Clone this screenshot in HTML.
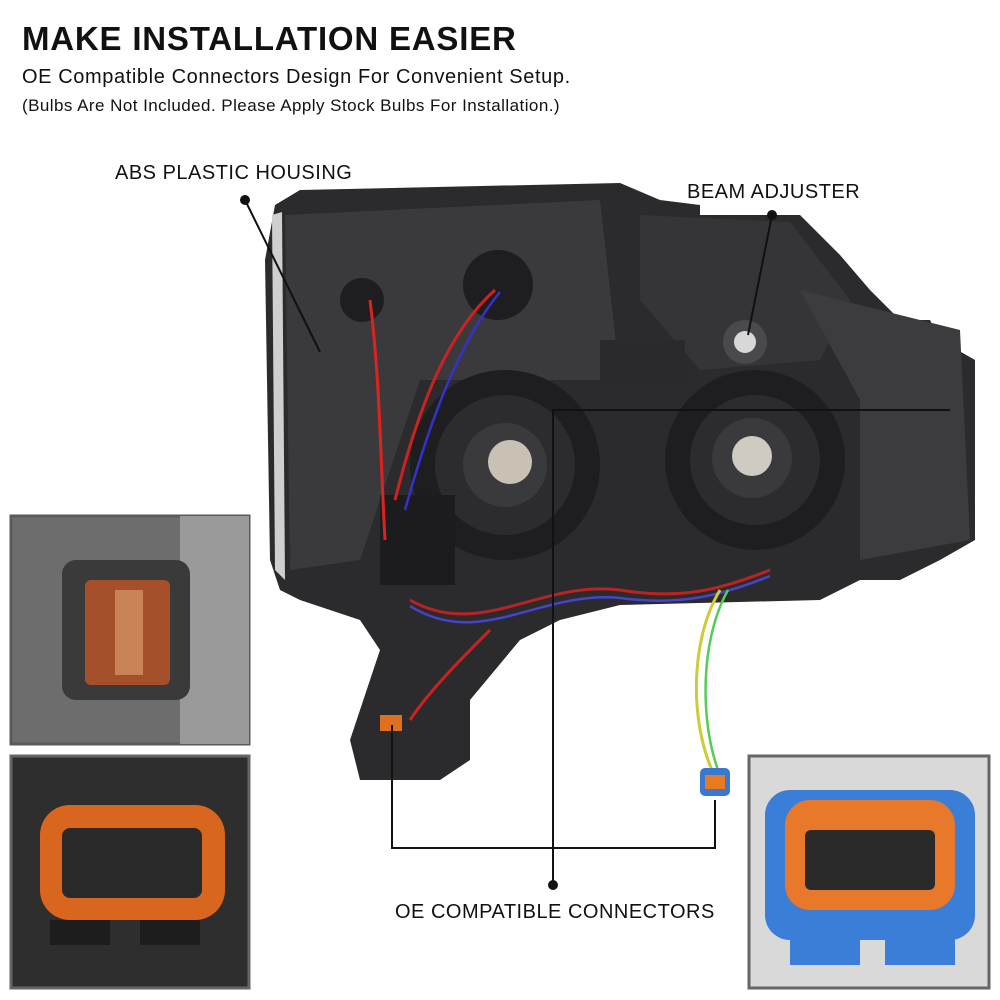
<!DOCTYPE html>
<html><head><meta charset="utf-8"><style>
html,body{margin:0;padding:0;background:#fff;}
body{width:1000px;height:1000px;position:relative;overflow:hidden;font-family:"Liberation Sans",sans-serif;}
.t{position:absolute;color:#111;white-space:nowrap;}
</style></head><body>
<svg width="1000" height="1000" style="position:absolute;left:0;top:0">
<!-- housing -->
<path d="M275,205 L300,190 L620,183 L660,200 L700,205 L700,215 L800,215 L840,255 L870,290 L900,320 L930,320 L940,340 L975,360 L975,540 L940,560 L900,580 L860,580 L820,600 L620,605 L560,620 L520,640 L470,700 L470,760 L440,780 L360,780 L350,740 L380,650 L360,620 L300,600 L280,590 L270,560 L265,260 Z" fill="#2b2b2d"/>
<path d="M272,215 L282,212 L285,580 L275,570 Z" fill="#cfcfcf"/>
<path d="M285,215 L600,200 L620,380 L420,380 L360,560 L290,570 Z" fill="#3a3a3c"/>
<path d="M640,215 L790,222 L850,300 L820,360 L700,370 L640,300 Z" fill="#353537"/>
<path d="M800,290 L960,330 L970,540 L860,560 L860,400 Z" fill="#3c3c3e"/>
<circle cx="505" cy="465" r="95" fill="#1e1e20"/><circle cx="505" cy="465" r="70" fill="#2c2c2e"/><circle cx="505" cy="465" r="42" fill="#3a3a3c"/><circle cx="510" cy="462" r="22" fill="#c9c2b4"/>
<circle cx="755" cy="460" r="90" fill="#1e1e20"/><circle cx="755" cy="460" r="65" fill="#2c2c2e"/><circle cx="752" cy="458" r="40" fill="#3a3a3c"/><circle cx="752" cy="456" r="20" fill="#cfcac2"/>
<circle cx="745" cy="342" r="22" fill="#4a4a4c"/><circle cx="745" cy="342" r="11" fill="#d8d8d8"/>
<circle cx="498" cy="285" r="35" fill="#1e1e20"/><circle cx="362" cy="300" r="22" fill="#1e1e20"/>
<rect x="600" y="340" width="85" height="45" fill="#2a2a2c"/>
<rect x="380" y="495" width="75" height="90" fill="#1c1c1e"/>
<path d="M370,300 C380,380 380,450 385,540" stroke="#d22" stroke-width="3" fill="none"/>
<path d="M495,290 C450,330 420,400 395,500" stroke="#c22" stroke-width="3" fill="none"/>
<path d="M500,292 C460,340 430,420 405,510" stroke="#33c" stroke-width="2.5" fill="none"/>
<path d="M410,600 C480,640 540,580 620,590 C680,600 720,590 770,570" stroke="#b22" stroke-width="3" fill="none"/>
<path d="M410,606 C480,650 540,590 620,598 C680,606 720,596 770,576" stroke="#44c" stroke-width="2.5" fill="none"/>
<path d="M720,590 C690,640 690,720 712,770" stroke="#cc3" stroke-width="3" fill="none"/>
<path d="M728,590 C700,640 700,720 718,770" stroke="#5c5" stroke-width="2.5" fill="none"/>
<path d="M490,630 C460,660 430,690 410,720" stroke="#c22" stroke-width="3" fill="none"/>
<rect x="700" y="768" width="30" height="28" rx="5" fill="#3a78d0"/><rect x="705" y="775" width="20" height="14" fill="#e87a22"/>
<rect x="380" y="715" width="22" height="16" fill="#e07020"/>
<g stroke="#111" stroke-width="2" fill="none">
<line x1="245" y1="200" x2="320" y2="352"/>
<line x1="772" y1="215" x2="748" y2="335"/>
<polyline points="553,885 553,410 950,410"/>
<polyline points="392,725 392,848 715,848 715,800"/>
</g>
<circle cx="245" cy="200" r="5" fill="#111"/><circle cx="772" cy="215" r="5" fill="#111"/><circle cx="553" cy="885" r="5" fill="#111"/>
<rect x="11" y="516" width="238" height="228" fill="#6d6d6d" stroke="#5a5a5a" stroke-width="3"/>
<rect x="180" y="516" width="69" height="228" fill="#9a9a9a"/>
<rect x="62" y="560" width="128" height="140" rx="14" fill="#3a3a3a"/>
<rect x="85" y="580" width="85" height="105" rx="6" fill="#a5502a"/>
<rect x="115" y="590" width="28" height="85" fill="#c88455"/>
<rect x="11" y="756" width="238" height="232" fill="#2e2e2e" stroke="#666" stroke-width="3"/>
<rect x="40" y="805" width="185" height="115" rx="30" fill="#d8661e"/>
<rect x="62" y="828" width="140" height="70" rx="8" fill="#2a2a2a"/>
<rect x="50" y="920" width="60" height="25" fill="#1d1d1d"/><rect x="140" y="920" width="60" height="25" fill="#1d1d1d"/>
<rect x="749" y="756" width="240" height="232" fill="#d9d9d9" stroke="#666" stroke-width="3"/>
<rect x="765" y="790" width="210" height="150" rx="25" fill="#3a7ed8"/>
<rect x="785" y="800" width="170" height="110" rx="25" fill="#e8782a"/>
<rect x="805" y="830" width="130" height="60" rx="6" fill="#2a2a2a"/>
<rect x="790" y="935" width="70" height="30" fill="#3a7ed8"/><rect x="885" y="935" width="70" height="30" fill="#3a7ed8"/>
</svg>
<div class="t" style="left:22px;top:20px;font-size:33px;font-weight:bold;letter-spacing:0.8px;">MAKE INSTALLATION EASIER</div>
<div class="t" style="left:22px;top:66px;font-size:20px;letter-spacing:0.6px;">OE Compatible Connectors Design For Convenient Setup.</div>
<div class="t" style="left:22px;top:96px;font-size:17px;letter-spacing:0.45px;">(Bulbs Are Not Included. Please Apply Stock Bulbs For Installation.)</div>
<div class="t" style="left:115px;top:162px;font-size:20px;letter-spacing:0.5px;">ABS PLASTIC HOUSING</div>
<div class="t" style="left:687px;top:181px;font-size:20px;letter-spacing:0.5px;">BEAM ADJUSTER</div>
<div class="t" style="left:395px;top:901px;font-size:20px;letter-spacing:0.5px;">OE COMPATIBLE CONNECTORS</div>
</body></html>
